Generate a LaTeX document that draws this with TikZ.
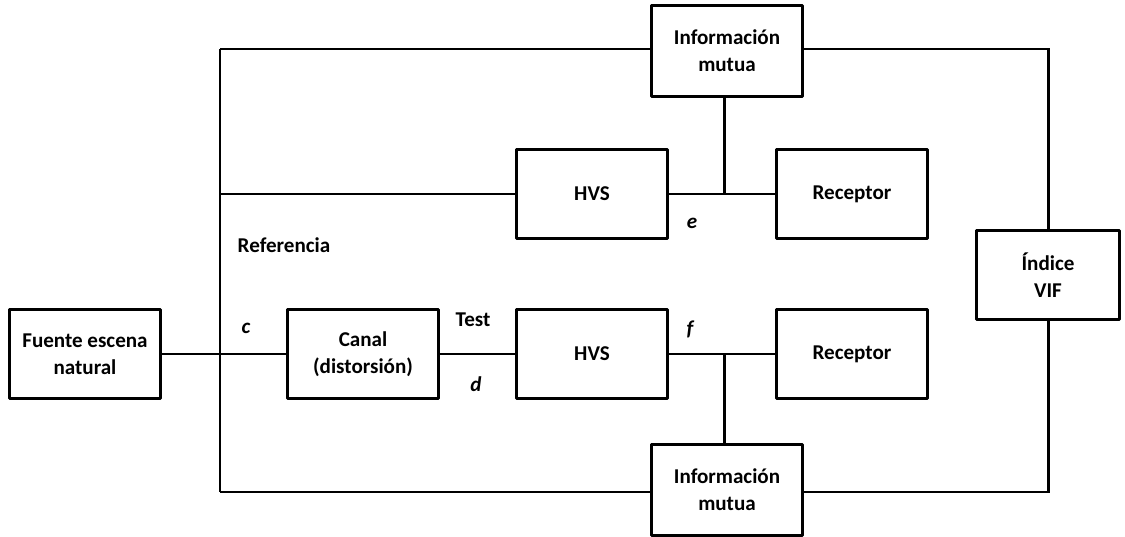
\documentclass[tikz,border=0pt]{standalone}
\usepackage{fontspec}
\setmainfont{Carlito}
\usepackage{tikz}
\tikzstyle{block}=[draw, line width=1.8pt, line join=round, inner sep=0pt, minimum width=86pt, minimum height=51pt, align=center, font=\bfseries\fontsize{12}{15.3}\selectfont]
\tikzstyle{wire}=[line width=1.7pt]
\tikzstyle{tag}=[font=\bfseries\fontsize{12}{14}\selectfont]
\tikzstyle{var}=[font=\bfseries\itshape\fontsize{12}{14}\selectfont]

\begin{document}
\begin{tikzpicture}[x=0.02cm, y=-0.02cm]
        \useasboundingbox (0,0) rectangle (1125,537);
        \node[block] (src) at (85, 354) {Fuente escena\\natural};
        \node[block] (ch) at (363, 354) {Canal\\(distorsión)};
        \node[block] (hvsR) at (592, 194) {HVS};
        \node[block] (recR) at (852, 194) {Receptor};
        \node[block] (hvsT) at (592, 354) {HVS};
        \node[block] (recT) at (852, 354) {Receptor};
        \node[block, minimum height=52pt] (miR) at (727, 51) {Información\\mutua};
        \node[block, minimum height=52pt] (miT) at (727, 490) {Información\\mutua};
        \node[block, minimum width=81pt] (vif) at (1048, 275) {Índice\\VIF};
        \coordinate (split) at (220, 354);
        \coordinate (top) at (220, 49);
        \coordinate (bot) at (220, 492);
        \coordinate (jR) at (724, 194);
        \coordinate (jT) at (724, 354);
        \draw[wire] (src.east) -- (ch.west);
        \draw[wire] (top) -- (bot);
        \draw[wire] (top) -- (miR.west |- top);
        \draw[wire] (miR.east |- top) -| (vif.north);
        \draw[wire] (bot) -- (miT.west |- bot);
        \draw[wire] (miT.east |- bot) -| (vif.south);
        \draw[wire] (top |- hvsR) -- (hvsR.west);
        \draw[wire] (hvsR.east) -- (recR.west);
        \draw[wire] (jR) -- (jR |- miR.south);
        \draw[wire] (ch.east) -- (hvsT.west);
        \draw[wire] (hvsT.east) -- (recT.west);
        \draw[wire] (jT) -- (jT |- miT.north);
        \node[tag] (ref) at (284, 245) {Referencia};
        \node[tag] (tst) at (473, 320) {Test};
        \node[var] (c) at (246, 328) {c};
        \node[var] (d) at (476, 384) {d};
        \node[var] (e) at (692, 223) {e};
        \node[var] (f) at (690, 329) {f};
    \end{tikzpicture}
\end{document}
